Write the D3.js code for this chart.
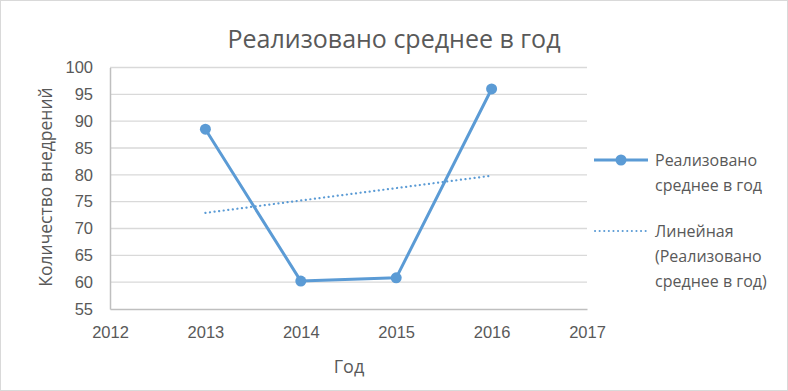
<!DOCTYPE html>
<html>
<head>
<meta charset="utf-8">
<script src="https://cdn.jsdelivr.net/npm/d3@7"></script>
<style>
  body { margin: 0; background: #fff; }
  svg { display: block; font-family: "Open Sans", "Noto Sans", sans-serif; }
</style>
</head>
<body>
<svg width="788" height="391"></svg>
<script>
// data
const years = [2013, 2014, 2015, 2016];
const realized = [88.5, 60.2, 60.8, 96.0];
const yTicks = [55, 60, 65, 70, 75, 80, 85, 90, 95, 100];
const xTicks = [2012, 2013, 2014, 2015, 2016, 2017];

const svg = d3.select('svg');
const blue = '#5b9bd5';
const grey = '#595959';

// outer border
svg.append('rect').attr('x', 0.5).attr('y', 0.5).attr('width', 787).attr('height', 390)
  .attr('fill', '#fff').attr('stroke', '#d9d9d9');

let x = d3.scaleLinear().domain([2012, 2017]).range([110, 587]);
let y = d3.scaleLinear().domain([55, 100]).range([309, 67.5]);

// gridlines
svg.append('g').selectAll('line').data(yTicks.slice(1)).join('line')
  .attr('x1', x(2012)).attr('x2', x(2017))
  .attr('y1', d => y(d)).attr('y2', d => y(d))
  .attr('stroke', '#d9d9d9').attr('stroke-width', 1.3);

// axes
let yAxis = svg.append('g').attr('transform', `translate(${x(2012)},0)`)
  .call(d3.axisLeft(y).tickValues(yTicks).tickSize(0).tickPadding(17));
let xAxis = svg.append('g').attr('transform', `translate(0,${y(55)})`)
  .call(d3.axisBottom(x).tickValues(xTicks).tickFormat(d3.format('d')).tickSize(0).tickPadding(17));
[yAxis, xAxis].forEach(a => {
  a.select('.domain').attr('stroke', '#bfbfbf').attr('stroke-width', 1.5);
  a.selectAll('text').attr('fill', grey).style('font-size', '16.5px');
});
xAxis.selectAll('text').attr('dy', '0.75em');

// trend line (linear regression on the series)
let mx = d3.mean(years), my = d3.mean(realized);
let slope = d3.sum(years, (d, i) => (d - mx) * (realized[i] - my)) / d3.sum(years, d => (d - mx) ** 2);
let trend = years.map(d => my + slope * (d - mx));
let line = d3.line().x(d => x(d[0])).y(d => y(d[1]));

svg.append('path').attr('d', line([[years[0], trend[0]], [years[3], trend[3]]]))
  .attr('fill', 'none').attr('stroke', blue).attr('stroke-width', 2.2)
  .attr('stroke-dasharray', '0.1,4.5').attr('stroke-linecap', 'round');

// series
svg.append('path').attr('d', line(years.map((d, i) => [d, realized[i]])))
  .attr('fill', 'none').attr('stroke', blue).attr('stroke-width', 3)
  .attr('stroke-linejoin', 'round');
svg.append('g').selectAll('circle').data(years).join('circle')
  .attr('cx', d => x(d)).attr('cy', (d, i) => y(realized[i])).attr('r', 5.5)
  .attr('fill', blue);

// titles
svg.append('text').attr('x', 394).attr('y', 48).attr('text-anchor', 'middle')
  .attr('fill', grey).style('font-size', '25px').text('Реализовано среднее в год');
svg.append('text').attr('transform', 'translate(52,187) rotate(-90)').attr('text-anchor', 'middle')
  .attr('fill', grey).style('font-size', '17.5px').text('Количество внедрений');
svg.append('text').attr('x', 349).attr('y', 373).attr('text-anchor', 'middle')
  .attr('fill', grey).style('font-size', '18px').text('Год');

// legend
let lg = svg.append('g');
lg.append('line').attr('x1', 594).attr('x2', 648).attr('y1', 160).attr('y2', 160)
  .attr('stroke', blue).attr('stroke-width', 3);
lg.append('circle').attr('cx', 621).attr('cy', 160).attr('r', 5.5).attr('fill', blue);
lg.append('line').attr('x1', 595).attr('x2', 648).attr('y1', 231).attr('y2', 231)
  .attr('stroke', blue).attr('stroke-width', 2).attr('stroke-dasharray', '0.1,4.5')
  .attr('stroke-linecap', 'round');
const legendLines = [['Реализовано', 166], ['среднее в год', 191], ['Линейная', 237], ['(Реализовано', 262], ['среднее в год)', 287]];
lg.selectAll('text').data(legendLines).join('text')
  .attr('x', 655).attr('y', d => d[1]).attr('fill', grey).style('font-size', '16px')
  .text(d => d[0]);
</script>
</body>
</html>
